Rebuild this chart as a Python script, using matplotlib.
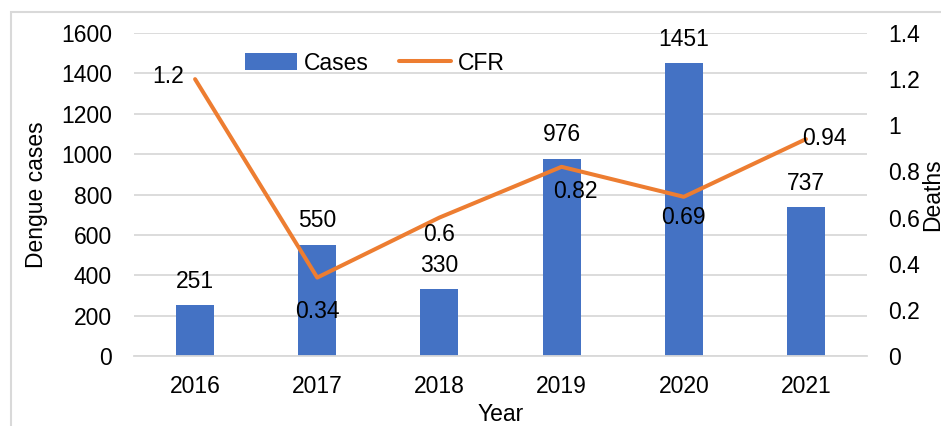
import matplotlib.pyplot as plt
from matplotlib.patches import Rectangle

plt.rcParams["font.family"] = ["Liberation Sans", "DejaVu Sans"]

years = ["2016", "2017", "2018", "2019", "2020", "2021"]
cases = [251, 550, 330, 976, 1451, 737]
cfr = [1.2, 0.34, 0.6, 0.82, 0.69, 0.94]
# label offsets for the CFR values (pixels, dx, dy)
cfr_offsets = [(-27, 3), (0, -34), (0, -17), (14, -25), (0, -21), (18, 1)]

blue = "#4472C4"
orange = "#ED7D31"
grid = "#D9D9D9"
fs = 16.5

W, H = 941, 426
fig = plt.figure(figsize=(W / 100, H / 100), dpi=100)
ax = fig.add_axes([134 / W, 1 - 356 / H, (867 - 134) / W, (356 - 33) / H])
ax2 = ax.twinx()

x = list(range(len(years)))
bars = ax.bar(x, cases, width=0.31, color=blue, label="Cases", zorder=2)
line, = ax2.plot(x, cfr, color=orange, lw=2.9, label="CFR",
                 solid_capstyle="round", zorder=3)

ax.set_xlim(-0.5, len(years) - 0.5)
ax.set_ylim(0, 1600)
ax.set_yticks(range(0, 1601, 200))
ax2.set_ylim(0, 1.4)
ax2.set_yticks([0, 0.2, 0.4, 0.6, 0.8, 1.0, 1.2, 1.4])
ax2.set_yticklabels(["0", "0.2", "0.4", "0.6", "0.8", "1", "1.2", "1.4"])
ax.set_xticks(x)
ax.set_xticklabels(years)

ax.yaxis.grid(True, color=grid, lw=1.3, zorder=0)
ax.set_axisbelow(True)
for a in (ax, ax2):
    for s in a.spines.values():
        s.set_visible(False)
ax.spines["bottom"].set_visible(True)
ax.spines["bottom"].set_color(grid)
ax.spines["bottom"].set_linewidth(1.3)

ax.tick_params(axis="x", length=0, pad=13.5, labelsize=fs)
ax.tick_params(axis="y", length=0, pad=15.8, labelsize=fs)
ax2.tick_params(axis="y", length=0, pad=15, labelsize=fs)

for xi, v in zip(x, cases):
    ax.annotate(str(v), (xi, v), xytext=(0, 24 * 0.72), textcoords="offset points",
                ha="center", va="center", fontsize=fs)
for xi, v, (dx, dy) in zip(x, cfr, cfr_offsets):
    ax2.annotate(f"{v:g}", (xi, v), xytext=(dx * 0.72, dy * 0.72),
                 textcoords="offset points", ha="center", va="center",
                 fontsize=fs, zorder=4)

fig.legend(handles=[bars, line], loc="center left",
           bbox_to_anchor=(245 / W, 1 - 63 / H), ncol=2, frameon=False,
           fontsize=fs, handlelength=2.27, handletextpad=0.3,
           columnspacing=1.3, borderpad=0, borderaxespad=0)

fig.text(25 / W, 1 - 194.5 / H, "Dengue cases", rotation=90, ha="left",
         va="center", fontsize=fs)
fig.text(921 / W, 1 - 194.5 / H, "Deaths", rotation=90, ha="left",
         va="center", fontsize=fs)
fig.text(500.5 / W, 1 - 403 / H, "Year", ha="center", va="top", fontsize=fs)

fig.patches.append(Rectangle((11 / W, -0.1), 1.2, 1 - 12 / H + 0.1,
                             transform=fig.transFigure, fill=False,
                             edgecolor=grid, lw=1.5))

fig.savefig("out.png", dpi=100)
